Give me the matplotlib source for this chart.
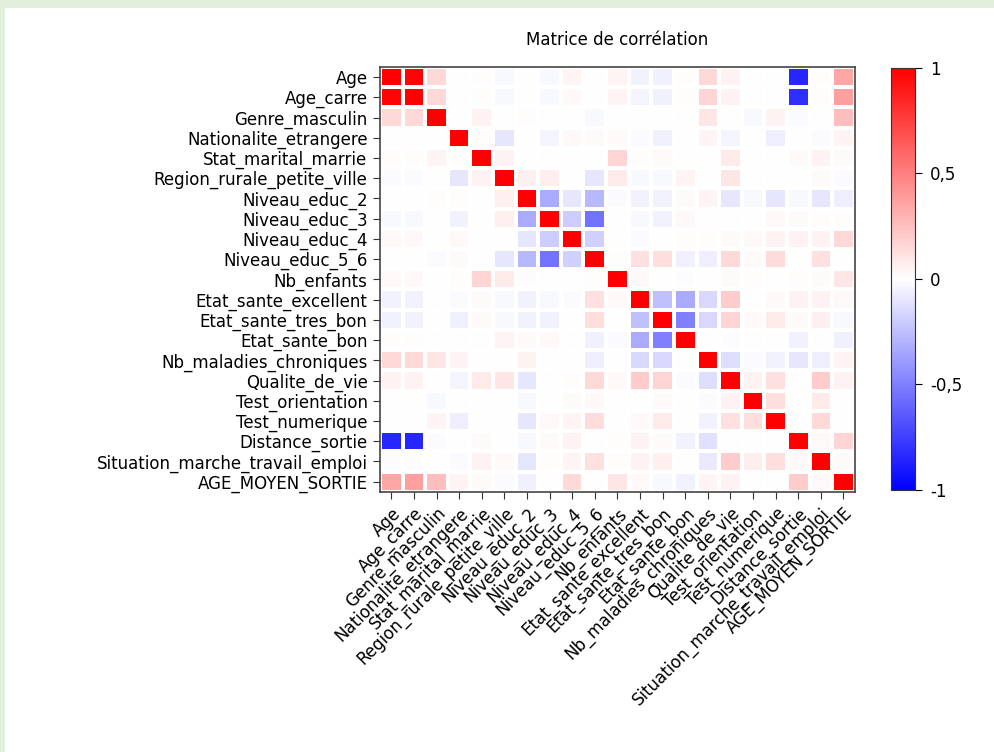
import numpy as np
import matplotlib
matplotlib.use('Agg')
import matplotlib.pyplot as plt
from matplotlib.patches import Rectangle

# Variable names (rows / columns of the matrix)
variables = ['Age', 'Age_carre', 'Genre_masculin', 'Nationalite_etrangere',
             'Stat_marital_marrie', 'Region_rurale_petite_ville', 'Niveau_educ_2',
             'Niveau_educ_3', 'Niveau_educ_4', 'Niveau_educ_5_6', 'Nb_enfants',
             'Etat_sante_excellent', 'Etat_sante_tres_bon', 'Etat_sante_bon',
             'Nb_maladies_chroniques', 'Qualite_de_vie', 'Test_orientation',
             'Test_numerique', 'Distance_sortie', 'Situation_marche_travail_emploi',
             'AGE_MOYEN_SORTIE']

# Correlation values (row by row)
r_age = [1, 0.98, 0.15, 0, 0.01, -0.03, 0, -0.03, 0.04, 0, 0.04, -0.05, -0.06, 0.01, 0.15, 0.05, 0, 0, -0.85, 0.01, 0.35]
r_age2 = [0.98, 1, 0.15, 0, 0.01, -0.03, 0, -0.03, 0.03, 0, 0.04, -0.04, -0.06, 0.01, 0.17, 0.05, 0, 0, -0.82, 0.01, 0.37]
r_genre = [0.15, 0.15, 1, 0, 0.05, 0, 0.01, 0, 0, -0.03, 0, 0, 0, 0, 0.1, 0, -0.03, 0.05, -0.02, 0, 0.25]
r_nat = [0, 0, 0, 1, 0.01, -0.1, 0, -0.04, 0.03, 0.02, 0.02, -0.02, -0.06, 0, 0.04, -0.04, 0, -0.07, 0, -0.02, 0.04]
r_marie = [0.01, 0.01, 0.04, 0.01, 1, 0.05, 0, 0, 0, 0, 0.17, 0.01, 0.02, 0, 0, 0.08, 0, 0, 0.02, 0.05, 0.02]
r_rural = [-0.02, -0.02, 0, -0.1, 0.05, 1, 0.06, 0.07, 0, -0.1, 0.08, -0.03, -0.03, 0.04, 0, 0.1, 0, 0, 0, 0.02, -0.02]
r_educ2 = [0, 0, 0.01, 0.01, 0, 0.06, 1, -0.33, -0.1, -0.28, -0.02, -0.05, -0.05, 0.02, 0.04, -0.1, -0.03, -0.1, -0.03, -0.1, -0.07]
r_educ3 = [-0.03, -0.03, 0, -0.05, 0, 0.06, -0.33, 1, -0.2, -0.55, 0, -0.03, -0.05, 0.03, 0, 0, 0, 0.03, 0.02, 0.01, 0.01]
r_educ4 = [0.03, 0.03, 0, 0.03, 0, 0, -0.1, -0.2, 1, -0.18, 0, -0.02, 0, 0.01, 0.01, 0.02, 0.03, 0.05, 0.05, 0.05, 0.15]
r_educ56 = [0, 0, -0.02, 0.02, 0, -0.1, -0.28, -0.55, -0.18, 1, 0.01, 0.12, 0.13, -0.06, -0.07, 0.15, 0.02, 0.14, 0, 0.12, 0]
r_enf = [0.03, 0.03, 0, 0.01, 0.17, 0.08, -0.01, 0, 0, 0.01, 1, 0.03, 0, -0.01, 0, 0.02, 0.01, 0, 0.01, 0.02, 0.1]
r_exc = [-0.05, -0.05, 0, -0.02, 0.02, -0.03, -0.05, -0.03, -0.02, 0.12, 0.03, 1, -0.25, -0.33, -0.15, 0.2, 0, 0.02, 0.05, 0.05, 0.03]
r_tbon = [-0.05, -0.05, 0, -0.06, 0.02, -0.03, -0.05, -0.05, 0, 0.13, 0, -0.25, 1, -0.5, -0.15, 0.17, 0.03, 0.08, 0.02, 0.06, -0.03]
r_bon = [0.01, 0.01, 0, 0, 0, 0.04, 0.02, 0.03, 0, -0.06, -0.02, -0.33, -0.5, 1, 0, -0.01, 0, 0, -0.05, 0, -0.06]
r_malad = [0.15, 0.15, 0.1, 0.04, 0, 0, 0.05, 0, 0, -0.07, 0, -0.15, -0.15, 0, 1, -0.13, -0.02, -0.05, -0.1, -0.07, 0.04]
r_qual = [0.05, 0.05, 0, -0.04, 0.08, 0.1, -0.1, 0, 0.01, 0.15, 0.03, 0.2, 0.17, -0.02, -0.13, 1, 0.05, 0.12, 0, 0.2, 0.05]
r_orient = [0, 0, -0.03, 0, 0, 0, -0.03, 0, 0.02, 0.03, 0, 0, 0.02, 0, -0.02, 0.05, 1, 0.13, 0, 0.08, 0]
r_num = [0, 0, 0.04, -0.07, 0, 0, -0.1, 0.03, 0.04, 0.14, 0, 0.03, 0.08, 0, -0.05, 0.12, 0.13, 1, 0, 0.15, 0]
r_dist = [-0.85, -0.85, -0.02, 0, 0.02, 0, -0.03, 0.02, 0.05, 0, 0.01, 0.05, 0.02, -0.05, -0.12, 0, 0, 0, 1, 0.03, 0.17]
r_sit = [-0.01, -0.01, 0, -0.02, 0.05, 0.02, -0.1, 0.01, 0.04, 0.12, 0.01, 0.05, 0.06, 0, -0.08, 0.2, 0.07, 0.13, 0.03, 1, 0.02]
r_agems = [0.35, 0.37, 0.25, 0.04, 0.02, -0.02, -0.06, 0, 0.15, 0, 0.1, 0.03, -0.03, -0.05, 0.04, 0.05, 0, 0, 0.2, 0.03, 1]

corr = np.array([r_age, r_age2, r_genre, r_nat, r_marie, r_rural, r_educ2, r_educ3,
                 r_educ4, r_educ56, r_enf, r_exc, r_tbon, r_bon, r_malad, r_qual,
                 r_orient, r_num, r_dist, r_sit, r_agems])

cbar_ticks = [-1, -0.5, 0, 0.5, 1]
cbar_labels = ['-1', '-0,5', '0', '0,5', '1']

plt.rcParams['font.family'] = 'DejaVu Sans'
fig = plt.figure(figsize=(9.95, 7.52), dpi=100, facecolor='white')
# light green frame on the left and top edges
fig.patches.append(Rectangle((0, 0), 5 / 995, 1, transform=fig.transFigure,
                             facecolor='#E2EFDA', edgecolor='none', zorder=-10))
fig.patches.append(Rectangle((0, 1 - 8 / 752), 1, 8 / 752, transform=fig.transFigure,
                             facecolor='#E2EFDA', edgecolor='none', zorder=-10))

ax = fig.add_axes([0.382, 0.346, 0.477, 0.565])
n = len(variables)
mesh = ax.pcolormesh(np.arange(n + 1) - 0.5, np.arange(n + 1) - 0.5, corr,
                     cmap='bwr', vmin=-1, vmax=1, edgecolors='white', linewidth=1.5)
ax.set_xlim(-0.5, n - 0.5)
ax.set_ylim(n - 0.5, -0.5)
ax.set_xticks(range(n))
ax.set_yticks(range(n))
ax.set_xticklabels(variables, rotation=45, ha='right', rotation_mode='anchor', fontsize=12)
ax.set_yticklabels(variables, fontsize=12)
ax.tick_params(direction='out', length=5, width=0.8, color='#333333', pad=4)
for s in ax.spines.values():
    s.set_color('#444444')
    s.set_linewidth(1.2)
ax.set_title('Matrice de corrélation', fontsize=12, pad=16)

cax = fig.add_axes([0.8955, 0.3484, 0.0241, 0.5612])
cb = fig.colorbar(mesh, cax=cax, ticks=cbar_ticks)
cb.ax.set_yticklabels(cbar_labels, fontsize=12)
cb.ax.tick_params(length=5, width=0.8, pad=6)
cb.outline.set_edgecolor('#333333')

fig.savefig('out.png', dpi=100)
